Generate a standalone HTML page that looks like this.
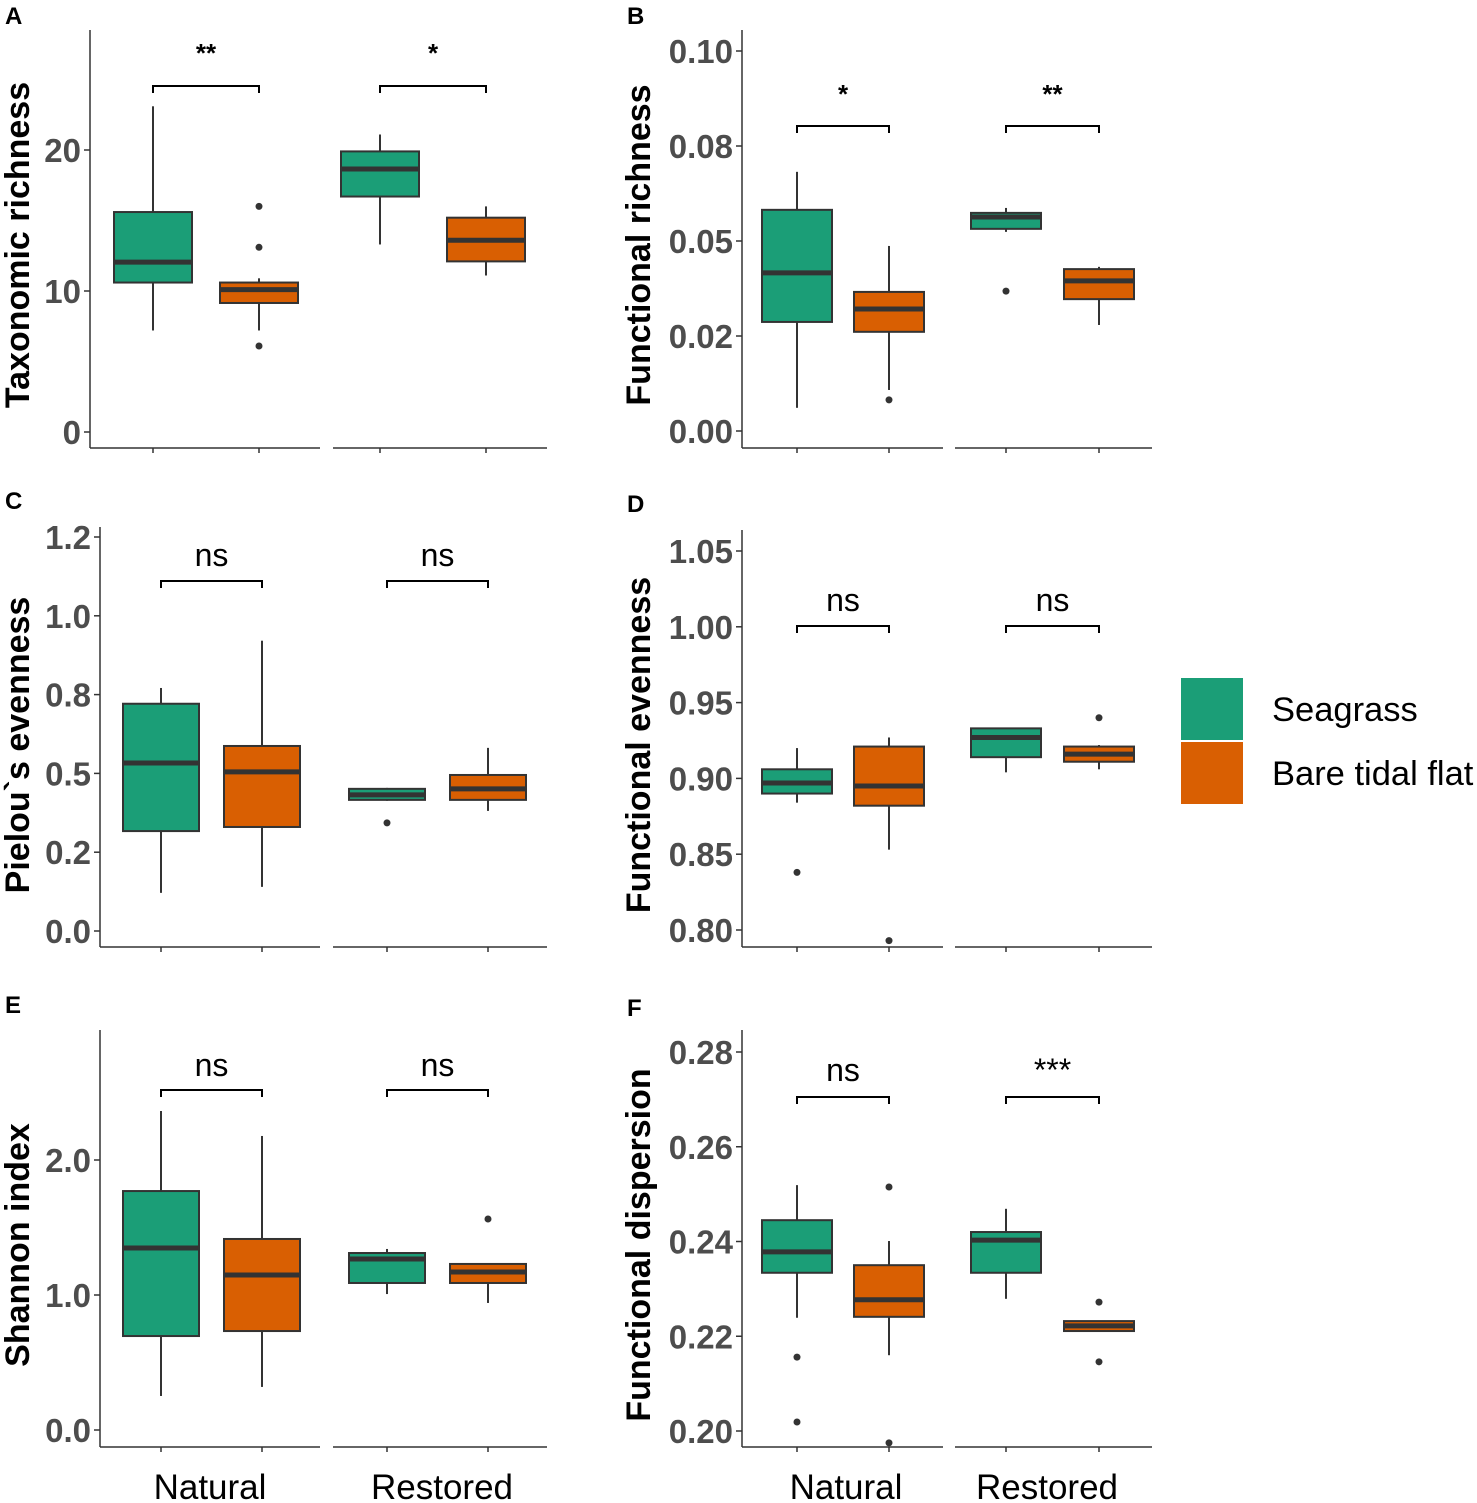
<!DOCTYPE html>
<html><head><meta charset="utf-8"><style>
body{margin:0;background:#fff;}
svg{display:block;font-family:"Liberation Sans",Arial,sans-serif;}
</style></head><body>
<svg id="chart" width="1477" height="1503" viewBox="0 0 1477 1503"></svg>
<script>
// ---- Data: per panel, 4 boxes in order [Natural-Seagrass, Natural-Bare, Restored-Seagrass, Restored-Bare]
const aLow=[7.2,7.2,13.3,11.1], aQ1=[10.6,9.15,16.7,12.1], aMed=[12.05,10.1,18.65,13.6], aQ3=[15.6,10.6,19.9,15.2], aHigh=[23.1,10.9,21.1,16.0];
const aOut=[[],[16.0,13.1,6.1],[],[]];
const aTicks=[0,10,20], aTickLabels=["0","10","20"];
const bLow=[0.0061,0.0108,0.0524,0.0279], bQ1=[0.0287,0.0261,0.0532,0.0347], bMed=[0.0416,0.0321,0.0563,0.0395], bQ3=[0.0582,0.0366,0.0574,0.0426], bHigh=[0.0682,0.0487,0.0587,0.0432];
const bOut=[[],[0.0082],[0.0368],[]];
const bTicks=[0,0.025,0.05,0.075,0.1], bTickLabels=["0.00","0.02","0.05","0.08","0.10"];
const cLow=[0.121,0.140,0.413,0.381], cQ1=[0.317,0.330,0.416,0.416], cMed=[0.533,0.505,0.432,0.451], cQ3=[0.721,0.587,0.451,0.495], cHigh=[0.771,0.921,0.454,0.581];
const cOut=[[],[],[0.343],[]];
const cTicks=[0,0.25,0.5,0.75,1.0,1.25], cTickLabels=["0.0","0.2","0.5","0.8","1.0","1.2"];
const dLow=[0.884,0.853,0.904,0.906], dQ1=[0.890,0.882,0.914,0.911], dMed=[0.897,0.895,0.927,0.916], dQ3=[0.906,0.921,0.933,0.921], dHigh=[0.920,0.927,0.933,0.922];
const dOut=[[0.838],[0.793],[],[0.940]];
const dTicks=[0.80,0.85,0.90,0.95,1.00,1.05], dTickLabels=["0.80","0.85","0.90","0.95","1.00","1.05"];
const eLow=[0.252,0.319,1.007,0.941], eQ1=[0.696,0.733,1.089,1.089], eMed=[1.348,1.148,1.267,1.17], eQ3=[1.770,1.415,1.311,1.23], eHigh=[2.363,2.178,1.341,1.23];
const eOut=[[],[],[],[1.563]];
const eTicks=[0,1,2], eTickLabels=["0.0","1.0","2.0"];
const fLow=[0.2239,0.2160,0.2279,0.2211], fQ1=[0.2334,0.2241,0.2334,0.2211], fMed=[0.2378,0.2277,0.2403,0.2222], fQ3=[0.2445,0.2350,0.2420,0.2232], fHigh=[0.2519,0.2401,0.2469,0.2232];
const fOut=[[0.2156,0.2019],[0.2515,0.1975],[],[0.2272,0.2146]];
const fTicks=[0.20,0.22,0.24,0.26,0.28], fTickLabels=["0.20","0.22","0.24","0.26","0.28"];
const sigLabels=[["**","*"],["*","**"],["ns","ns"],["ns","ns"],["ns","ns"],["ns","***"]];
const groups=["Natural","Restored"];
const fills=["#1b9e77","#d95f02","#1b9e77","#d95f02"];

const svg=document.getElementById('chart');
const NS='http://www.w3.org/2000/svg';
function mk(tag,attrs,parent){const e=document.createElementNS(NS,tag);for(const k in attrs)e.setAttribute(k,attrs[k]);(parent||svg).appendChild(e);return e;}

const L={ax:90,facets:[[90,320],[333,547]],cx:[153,259,380,486],hw:39};
const Lc={ax:100,facets:[[100,320],[333,547]],cx:[161,262,387,488],hw:38};
const R={ax:742,facets:[[742,943],[955,1152]],cx:[797,889,1006,1099],hw:35};
const panels=[
 {id:'a',letter:'A',lx:5,ly:24,lay:L,top:30,bot:448,v0:0,p0:432,v1:20,p1:150,low:aLow,q1:aQ1,med:aMed,q3:aQ3,high:aHigh,out:aOut,ticks:aTicks,tl:aTickLabels,title:'Taxonomic richness',tx:29,ty:245,brY:86,sigY:62,sigSize:26,sigBold:true},
 {id:'b',letter:'B',lx:627,ly:24,lay:R,top:30,bot:448,v0:0,p0:431,v1:0.1,p1:51,low:bLow,q1:bQ1,med:bMed,q3:bQ3,high:bHigh,out:bOut,ticks:bTicks,tl:bTickLabels,title:'Functional richness',tx:650,ty:245,brY:126,sigY:103,sigSize:26,sigBold:true},
 {id:'c',letter:'C',lx:5,ly:509,lay:Lc,top:527,bot:947,v0:0,p0:931,v1:1.25,p1:537,low:cLow,q1:cQ1,med:cMed,q3:cQ3,high:cHigh,out:cOut,ticks:cTicks,tl:cTickLabels,title:'Pielou`s evenness',tx:29,ty:745,brY:581,sigY:566,sigSize:32},
 {id:'d',letter:'D',lx:627,ly:512,lay:R,top:530,bot:947,v0:0.8,p0:930,v1:1.05,p1:551,low:dLow,q1:dQ1,med:dMed,q3:dQ3,high:dHigh,out:dOut,ticks:dTicks,tl:dTickLabels,title:'Functional evenness',tx:650,ty:745,brY:626,sigY:611,sigSize:32},
 {id:'e',letter:'E',lx:5,ly:1013,lay:Lc,top:1030,bot:1447,v0:0,p0:1430,v1:2,p1:1160,low:eLow,q1:eQ1,med:eMed,q3:eQ3,high:eHigh,out:eOut,ticks:eTicks,tl:eTickLabels,title:'Shannon index',tx:29,ty:1245,brY:1090,sigY:1076,sigSize:32},
 {id:'f',letter:'F',lx:627,ly:1016,lay:R,top:1030,bot:1447,v0:0.2,p0:1431,v1:0.28,p1:1052,low:fLow,q1:fQ1,med:fMed,q3:fQ3,high:fHigh,out:fOut,ticks:fTicks,tl:fTickLabels,title:'Functional dispersion',tx:650,ty:1245,brY:1097,sigY:1081,sigSize:32}
];

panels.forEach((P,pi)=>{
  const y=v=>P.p0+(v-P.v0)*(P.p1-P.p0)/(P.v1-P.v0);
  const g=mk('g',{});
  
  
  const lt=mk('text',{x:P.lx,y:P.ly,'font-size':24,'font-weight':'bold',fill:'#000'},g);lt.textContent=P.letter;
  
  
  const ti=mk('text',{x:P.tx,y:P.ty,'font-size':34,'font-weight':'bold',fill:'#000','text-anchor':'middle',transform:`rotate(-90 ${P.tx} ${P.ty})`},g);ti.textContent=P.title;
  
  
  const lay=P.lay;
  const yax=mk('line',{x1:lay.ax,y1:P.top,x2:lay.ax,y2:P.bot,stroke:'#333','stroke-width':1.5},g);
  
  
  lay.facets.forEach((f,fi)=>{
    const xl=mk('line',{x1:f[0],y1:P.bot,x2:f[1],y2:P.bot,stroke:'#333','stroke-width':1.5},g);
    
    
  });
  lay.cx.forEach(cx=>mk('line',{x1:cx,y1:P.bot,x2:cx,y2:P.bot+5,stroke:'#333','stroke-width':1.5},g));
  P.ticks.forEach((t,i)=>{
    const ty=y(t);
    mk('line',{x1:lay.ax-6,y1:ty,x2:lay.ax,y2:ty,stroke:'#333','stroke-width':1.5},g);
    const tt=mk('text',{x:lay.ax-9,y:ty+12,'font-size':33,'font-weight':'bold',fill:'#4d4d4d','text-anchor':'end'},g);tt.textContent=P.tl[i];
    
    
  });
  for(let i=0;i<4;i++){
    const cx=lay.cx[i],hw=lay.hw;
    const bg=mk('g',{},g);
    
    
    mk('line',{x1:cx,y1:y(P.high[i]),x2:cx,y2:y(P.q3[i]),stroke:'#333','stroke-width':2},bg);
    mk('line',{x1:cx,y1:y(P.q1[i]),x2:cx,y2:y(P.low[i]),stroke:'#333','stroke-width':2},bg);
    const yt=y(P.q3[i]),yb=y(P.q1[i]);
    mk('rect',{x:cx-hw,y:yt,width:2*hw,height:Math.max(yb-yt,0.5),fill:fills[i],stroke:'#333','stroke-width':2},bg);
    mk('line',{x1:cx-hw,y1:y(P.med[i]),x2:cx+hw,y2:y(P.med[i]),stroke:'#333','stroke-width':5},bg);
    P.out[i].forEach(o=>mk('circle',{cx:cx,cy:y(o),r:3.5,fill:'#333'},bg));
  }
  for(let k=0;k<2;k++){
    const x1=lay.cx[2*k],x2=lay.cx[2*k+1];
    const br=mk('path',{d:`M${x1} ${P.brY+7}V${P.brY}H${x2}V${P.brY+7}`,fill:'none',stroke:'#000','stroke-width':2},g);
    
    
    const st=mk('text',{x:(x1+x2)/2,y:P.sigY,'font-size':P.sigSize,'font-weight':P.sigBold?'bold':'normal',fill:'#000','text-anchor':'middle'},g);st.textContent=sigLabels[pi][k];
    
    
  }
});
[[210,846],[442,1047]].forEach((xs,gi)=>xs.forEach(x=>{
  const t=mk('text',{x:x,y:1499,'font-size':35,fill:'#000','text-anchor':'middle'});t.textContent=groups[gi];
  
  
}));
const lg=mk('g',{});


[["Seagrass","#1b9e77",678],["Bare tidal flat","#d95f02",742]].forEach(([n,c,yy])=>{
  const r=mk('rect',{x:1181,y:yy,width:62,height:62,fill:c},lg);
  
  
  const t=mk('text',{x:1272,y:yy+43,'font-size':34.5,fill:'#000'},lg);t.textContent=n;
  
  
});
</script>
</body></html>
